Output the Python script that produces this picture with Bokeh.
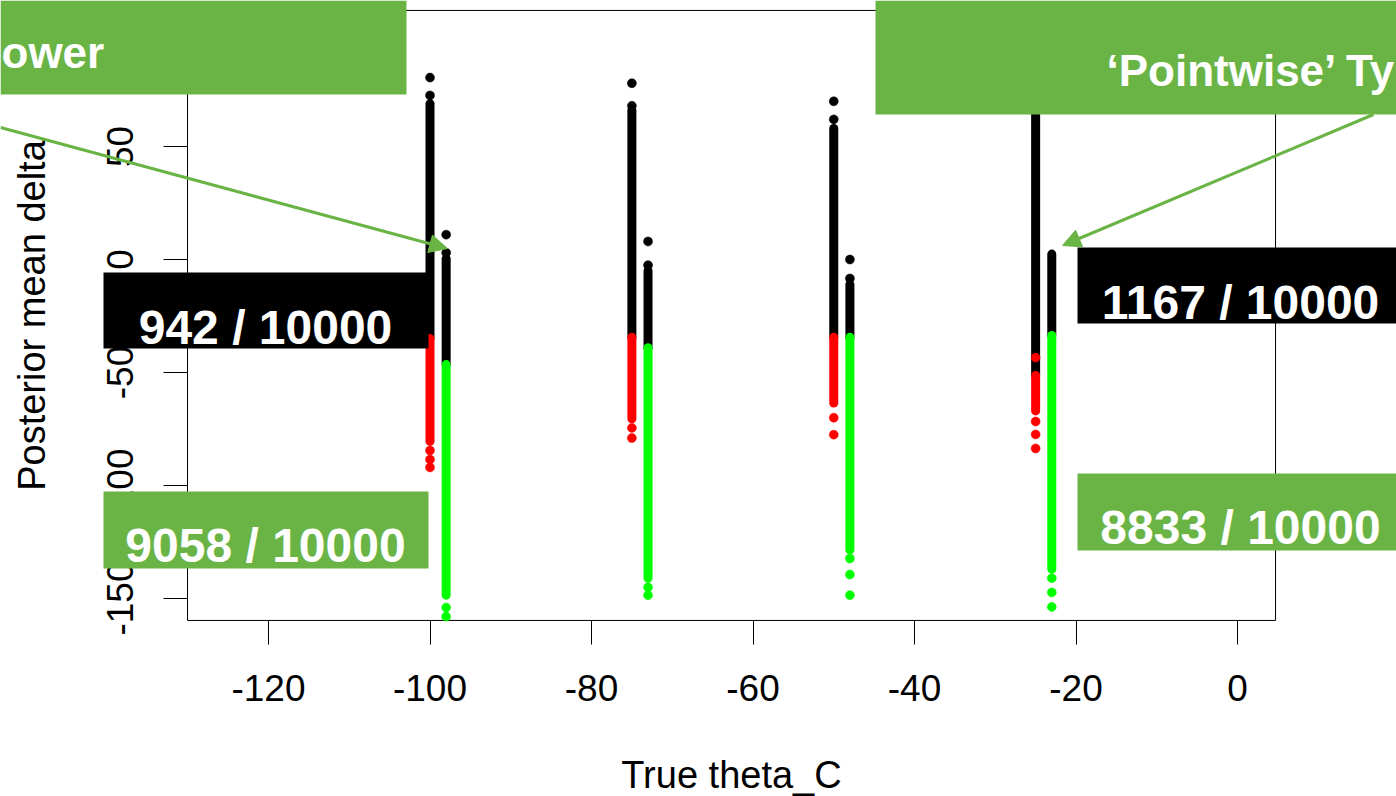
from bokeh.plotting import figure
from bokeh.models import (Range1d, FixedTicker, BoxAnnotation, Label, Arrow,
                          NormalHead, ColumnDataSource)
from bokeh.embed import file_html
from bokeh.resources import INLINE

# ---------------- data ----------------
theta = [-100, -75, -50, -25]          # true theta_C of each group
pointwise_offset = 2                   # second strip drawn at theta + 2

# left strip (black above split, red below)
left_black_top = [69, 66, 58, 85]
left_split = [-35, -34.4, -34.4, -51.3]
left_red_bottom = [-80.5, -70.5, -63.5, -67]
left_black_dots = [[80.5, 72.6], [78, 68], [70, 62], []]
left_red_dots = [[-84.5, -88.5, -92], [-74.5, -79], [-70, -77.5],
                 [-43.4, -71.7, -77.4, -83.6]]

# right strip (black above split, green below)
right_black_top = [0.4, -5, -11, 2.4]
right_split = [-46.5, -39, -34.4, -33.6]
right_green_bottom = [-148.5, -141, -128.5, -137]
right_black_dots = [[11, 3], [8, -2.5], [0, -8.4], []]
right_green_dots = [[-154, -158], [-145, -148.5], [-132.3, -139.4, -148.5],
                    [-141, -147.3, -153.7]]

x_ticks = [-120, -100, -80, -60, -40, -20, 0]
x_tick_labels = ["-120", "-100", "-80", "-60", "-40", "-20", "0"]
y_ticks = [-150, -100, -50, 0, 50, 100]
y_tick_labels = ["-150", "-100", "-50", "0", "50", "100"]

# limits of the original plot box
x_lim = [-130.03, 4.71]
y_lim = [-159.7, 110.2]

count_labels = ["942 / 10000", "9058 / 10000", "1167 / 10000", "8833 / 10000"]

# ---------------- styles ----------------
W, H = 1396, 796
GREEN = "#6AB446"
RED = "#FF0000"
LIME = "#00FF00"
FONT = "Liberation Sans"

# the whole canvas is the frame; the visible page is a crop of a larger slide
p = figure(width=W, height=H, output_backend="svg", toolbar_location=None,
           title=None,
           x_range=Range1d(-153.19, 19.69), y_range=Range1d(-237.6, 114.6),
           min_border_left=0, min_border_right=0,
           min_border_top=0, min_border_bottom=0)
p.grid.visible = False
p.outline_line_color = None
p.background_fill_color = "white"
p.border_fill_color = "white"

# plot box
p.quad(left=[x_lim[0]], right=[x_lim[1]], bottom=[y_lim[0]], top=[y_lim[1]],
       fill_color=None, line_color="black", line_width=1)

# ---------------- strips ----------------
sx0, sy0, sy1, scol = [], [], [], []
dx, dy, dcol = [], [], []
for i, t in enumerate(theta):
    tr = t + pointwise_offset
    sx0 += [t, t, tr, tr]
    sy0 += [left_black_top[i], left_split[i], right_black_top[i], right_split[i]]
    sy1 += [left_split[i], left_red_bottom[i], right_split[i], right_green_bottom[i]]
    scol += ["black", RED, "black", LIME]
    for v in left_black_dots[i]:
        dx.append(t); dy.append(v); dcol.append("black")
    for v in left_red_dots[i]:
        dx.append(t); dy.append(v); dcol.append(RED)
    for v in right_black_dots[i]:
        dx.append(tr); dy.append(v); dcol.append("black")
    for v in right_green_dots[i]:
        dx.append(tr); dy.append(v); dcol.append(LIME)

seg_src = ColumnDataSource(dict(x=sx0, y0=sy0, y1=sy1, c=scol))
p.segment(x0="x", y0="y0", x1="x", y1="y1", source=seg_src, line_color="c",
          line_width=9, line_cap="round")
dot_src = ColumnDataSource(dict(x=dx, y=dy, c=dcol))
p.scatter(x="x", y="y", source=dot_src, size=9, fill_color="c", line_color="c",
          line_width=0.5)

# ---------------- axes ----------------
p.xaxis.fixed_location = y_lim[0]
p.yaxis.fixed_location = x_lim[0]
p.xaxis.bounds = (x_lim[0], x_lim[1])
p.yaxis.bounds = (y_lim[0], y_lim[1])
p.xaxis.ticker = FixedTicker(ticks=x_ticks)
p.yaxis.ticker = FixedTicker(ticks=y_ticks)
p.xaxis.major_label_overrides = {t: s for t, s in zip(x_ticks, x_tick_labels)}
p.yaxis.major_label_overrides = {t: s for t, s in zip(y_ticks, y_tick_labels)}
for ax in (p.xaxis[0], p.yaxis[0]):
    ax.axis_line_color = None
    ax.major_tick_out = 24
    ax.major_tick_in = 0
    ax.minor_tick_out = 0
    ax.minor_tick_in = 0
    ax.major_tick_line_color = "black"
    ax.major_tick_line_width = 1
    ax.major_label_text_font = FONT
    ax.major_label_text_font_size = "37px"
    ax.major_label_text_color = "black"
    ax.axis_label_text_font = FONT
    ax.axis_label_text_font_size = "38px"
    ax.axis_label_text_font_style = "normal"
    ax.axis_label_text_color = "black"
p.xaxis.axis_label = "True theta_C"
p.yaxis.axis_label = "Posterior mean delta"
p.yaxis.major_label_orientation = "vertical"
p.xaxis.major_label_standoff = 31
p.xaxis.axis_label_standoff = 49
p.yaxis.major_label_standoff = 31
p.yaxis.axis_label_standoff = 51


# ---------------- annotations (canvas pixel positions) ----------------
def sx(cx):
    return cx


def sy(cy):
    return H - cy


def box(l, t, r, b, color):
    p.add_layout(BoxAnnotation(left=sx(l), right=sx(r), top=sy(t), bottom=sy(b),
                               left_units="screen", right_units="screen",
                               top_units="screen", bottom_units="screen",
                               fill_color=color, fill_alpha=1.0,
                               line_color=None, level="annotation"))


box(0, 0, 406, 94, GREEN)
box(875, 0, 1396, 114, GREEN)
box(103, 272, 428, 348, "black")
box(103, 491, 428, 568, GREEN)
box(1077, 247, 1396, 323, "black")
box(1077, 473, 1396, 550, GREEN)


def label(cx, cy, text, align="center", size="48px"):
    p.add_layout(Label(x=sx(cx), y=sy(cy), x_units="screen", y_units="screen",
                       text=text, text_font=FONT, text_font_style="bold",
                       text_font_size=size, text_color="white",
                       text_align=align, text_baseline="alphabetic"))


label(1, 52, "ower", align="left", size="44px")
label(1106, 70, "\u2018Pointwise\u2019 Ty", align="left", size="44px")
label(265, 327, count_labels[0])
label(265, 545, count_labels[1])
label(1240, 302, count_labels[2])
label(1240, 527, count_labels[3])


def arrow(x0, y0, x1, y1):
    p.add_layout(Arrow(end=NormalHead(size=18, fill_color=GREEN, line_color=GREEN,
                                      line_width=1),
                       x_start=sx(x0), y_start=sy(y0), x_end=sx(x1), y_end=sy(y1),
                       start_units="screen", end_units="screen",
                       line_color=GREEN, line_width=3))


arrow(0, 127, 447, 248)
arrow(1373, 114, 1062, 245)

open("out.html", "w").write(file_html(p, INLINE))
